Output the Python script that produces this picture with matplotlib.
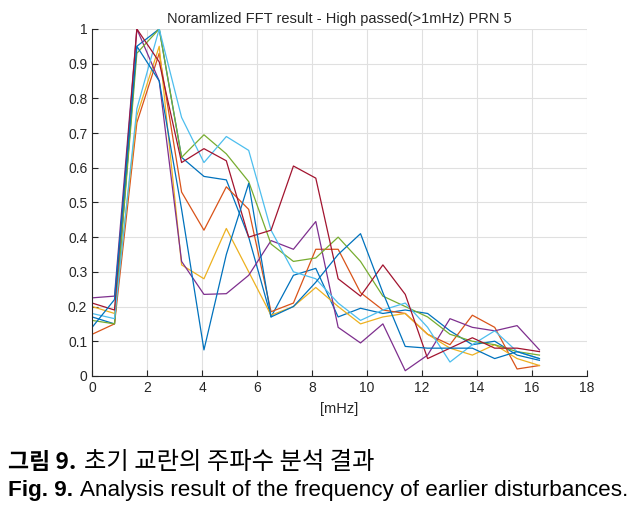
import numpy as np
import matplotlib.pyplot as plt

# frequency bins [mHz]
df = 0.8138
freq = np.arange(21) * df

# normalized spectra, one per run
s_blue = [0.17, 0.15, 0.95, 1.0, 0.63, 0.575, 0.565, 0.40, 0.17, 0.29, 0.31, 0.17, 0.195, 0.18, 0.19, 0.18, 0.13, 0.09, 0.10, 0.06, 0.045]
s_orange = [0.12, 0.15, 0.73, 0.93, 0.53, 0.42, 0.545, 0.48, 0.185, 0.21, 0.365, 0.365, 0.24, 0.19, 0.18, 0.12, 0.09, 0.175, 0.14, 0.02, 0.03]
s_yellow = [0.20, 0.18, 0.75, 0.95, 0.32, 0.28, 0.425, 0.30, 0.175, 0.20, 0.255, 0.20, 0.15, 0.17, 0.18, 0.12, 0.08, 0.06, 0.09, 0.05, 0.03]
s_purple = [0.225, 0.23, 1.0, 0.85, 0.33, 0.235, 0.237, 0.29, 0.39, 0.365, 0.445, 0.14, 0.095, 0.15, 0.015, 0.06, 0.165, 0.14, 0.13, 0.145, 0.075]
s_green = [0.16, 0.15, 0.93, 1.0, 0.63, 0.695, 0.64, 0.56, 0.38, 0.33, 0.34, 0.40, 0.33, 0.23, 0.20, 0.17, 0.12, 0.10, 0.09, 0.07, 0.06]
s_cyan = [0.18, 0.165, 0.77, 1.0, 0.745, 0.615, 0.69, 0.65, 0.42, 0.30, 0.28, 0.21, 0.16, 0.19, 0.21, 0.14, 0.04, 0.09, 0.13, 0.07, 0.05]
s_darkred = [0.21, 0.19, 1.0, 0.905, 0.615, 0.655, 0.62, 0.40, 0.42, 0.605, 0.57, 0.28, 0.23, 0.32, 0.235, 0.05, 0.08, 0.11, 0.08, 0.08, 0.07]
s_blue2 = [0.14, 0.22, 0.95, 0.85, 0.48, 0.075, 0.35, 0.555, 0.17, 0.20, 0.27, 0.35, 0.41, 0.24, 0.085, 0.08, 0.08, 0.08, 0.05, 0.07, 0.05]

series = [s_blue, s_orange, s_yellow, s_purple, s_green, s_cyan, s_darkred, s_blue2]
colors = ['#0072BD', '#D95319', '#EDB120', '#7E2F8E', '#77AC30', '#4DBEEE', '#A2142F', '#0072BD']

plt.rcParams['font.family'] = ['Liberation Sans', 'DejaVu Sans']

fig = plt.figure(figsize=(6.31, 5.08), dpi=100)
ax = fig.add_axes([0.146, 0.260, 0.784, 0.683])

for s, c in zip(series, colors):
    ax.plot(freq, s, color=c, lw=0.9)

ax.set_xlim(0, 18)
ax.set_ylim(0, 1)
ax.set_xticks(np.arange(0, 19, 2))
ax.set_yticks(np.arange(0, 1.01, 0.1))
ax.set_yticklabels(['0', '0.1', '0.2', '0.3', '0.4', '0.5', '0.6', '0.7', '0.8', '0.9', '1'])
ax.grid(True, color='#e0e0e0', lw=0.8)
ax.set_axisbelow(True)
for side in ['top', 'right']:
    ax.spines[side].set_visible(False)
for side in ['left', 'bottom']:
    ax.spines[side].set_color('#262626')
ax.tick_params(direction='in', length=4, colors='#262626', labelsize=10)
ax.set_title('Noramlized FFT result - High passed(>1mHz) PRN 5', fontsize=10.5, color='#262626', pad=4)
ax.set_xlabel('[mHz]', fontsize=10.5, color='#262626', labelpad=5)


def caption(y, bold, rest, size, rest_size=None, family=None):
    # bold label followed by plain text, placed right after it
    kw = {'va': 'center'}
    if family:
        kw['family'] = family
    t = fig.text(0.013, y, bold, fontweight='bold', fontsize=size, **kw)
    r = fig.canvas.get_renderer()
    bb = t.get_window_extent(renderer=r)
    x1 = (bb.x1 + 0.45 * size) / fig.bbox.width
    fig.text(x1, y, rest, fontsize=rest_size or size, **kw)


ko = ['Noto Sans CJK KR', 'DejaVu Sans']
caption(0.090, '그림 9.', '초기 교란의 주파수 분석 결과', 16.5, 17.5, ko)
caption(0.034, 'Fig. 9.', 'Analysis result of the frequency of earlier disturbances.', 16.2)

fig.savefig('out.png', dpi=100)
